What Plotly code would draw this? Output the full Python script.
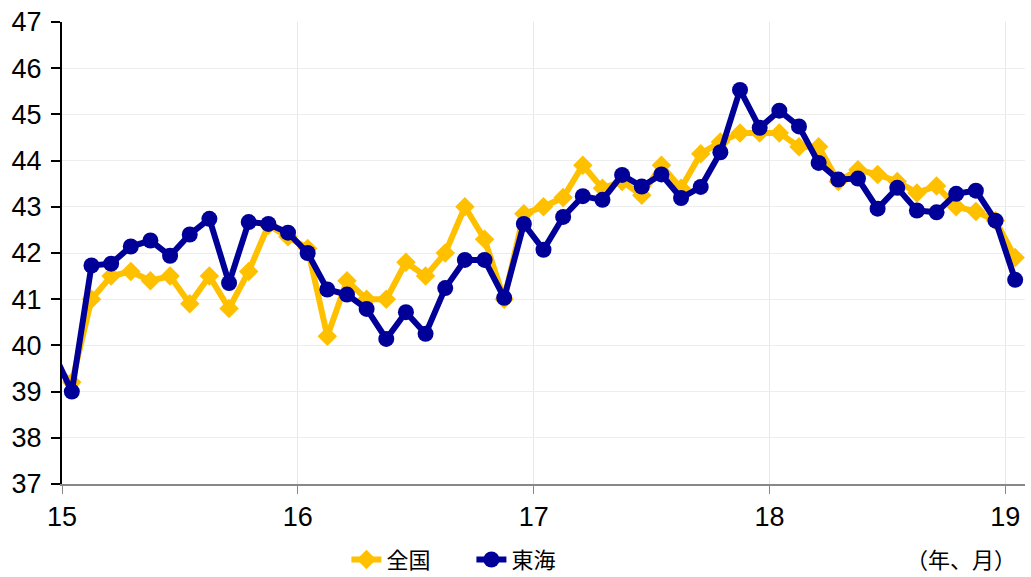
import plotly.graph_objects as go

# Monthly data, Dec 2014 (clipped at the left edge) through Jan 2019
months = [f"{y}-{m:02d}" for y, m in [(2014, 12)] + [(yy, mm) for yy in range(2015, 2019) for mm in range(1, 13)] + [(2019, 1)]]

zenkoku = [39.6,
           39.2, 41.0, 41.5, 41.6, 41.4, 41.5, 40.9, 41.5, 40.8, 41.6, 42.6, 42.35,
           42.1, 40.2, 41.4, 41.0, 41.0, 41.8, 41.5, 42.0, 43.0, 42.3, 41.0, 42.85,
           43.0, 43.2, 43.9, 43.4, 43.55, 43.25, 43.9, 43.4, 44.15, 44.4, 44.6, 44.6,
           44.6, 44.3, 44.3, 43.55, 43.8, 43.7, 43.55, 43.3, 43.45, 43.0, 42.9, 42.7,
           41.9]

tokai = [39.9,
         39.0, 41.73, 41.77, 42.14, 42.27, 41.94, 42.40, 42.74, 41.35, 42.67, 42.63, 42.44,
         42.0, 41.21, 41.10, 40.79, 40.14, 40.72, 40.25, 41.24, 41.85, 41.85, 41.03, 42.63,
         42.07, 42.78, 43.23, 43.15, 43.69, 43.44, 43.70, 43.19, 43.43, 44.18, 45.53, 44.71,
         45.08, 44.74, 43.95, 43.59, 43.61, 42.96, 43.41, 42.92, 42.88, 43.28, 43.35, 42.70,
         41.42]

year_labels = ["15", "16", "17", "18", "19"]
y_ticks = list(range(37, 48))

# x position: Jan 2015 = 0
xpos = [i - 1 for i in range(len(months))]
year_tickvals = [12 * k - 0.5 for k in range(len(year_labels))]

YELLOW = "#FFC000"
BLUE = "#000099"

fig = go.Figure()
fig.add_trace(go.Scatter(
    x=xpos, y=zenkoku, name="全国", mode="lines+markers",
    line=dict(color=YELLOW, width=6),
    marker=dict(symbol="diamond", size=15, color=YELLOW),
))
fig.add_trace(go.Scatter(
    x=xpos, y=tokai, name="東海", mode="lines+markers",
    line=dict(color=BLUE, width=6),
    marker=dict(symbol="circle", size=16, color=BLUE),
))

tick_font = dict(family="Liberation Sans Narrow, Liberation Sans, sans-serif", size=27, color="#000000")
cjk_font = dict(family="Noto Sans CJK JP", size=22, color="#000000")

fig.update_layout(
    width=1031, height=577,
    margin=dict(l=62, r=6, t=22, b=93, autoexpand=False),
    paper_bgcolor="white", plot_bgcolor="white",
    showlegend=True,
    legend=dict(
        orientation="h", xref="container", yref="container",
        x=0.336, xanchor="left", y=0.03, yanchor="middle",
        font=cjk_font, itemwidth=30, tracegroupgap=0,
        entrywidth=80, entrywidthmode="pixels",
        bgcolor="rgba(0,0,0,0)",
    ),
    xaxis=dict(
        range=[-0.5, 48.5], automargin=False,
        tickmode="array", tickvals=year_tickvals, ticktext=year_labels,
        showgrid=True, gridcolor="#E8E8E8", gridwidth=1,
        showline=True, linecolor="#888888", linewidth=2,
        ticks="outside", ticklen=8, tickcolor="#888888", tickwidth=1,
        tickfont=tick_font, zeroline=False,
    ),
    yaxis=dict(
        range=[37, 47], automargin=False,
        tickmode="array", tickvals=y_ticks,
        showgrid=True, gridcolor="#EDEDED", gridwidth=1,
        showline=True, linecolor="#000000", linewidth=2,
        ticks="outside", ticklen=9, tickcolor="#000000", tickwidth=2,
        tickfont=tick_font, ticklabelstandoff=4, zeroline=False,
    ),
    annotations=[dict(
        text="（年、月）", xref="paper", yref="paper",
        x=0.993, xanchor="right", y=-0.16, yanchor="middle",
        showarrow=False, font=cjk_font,
    )],
)

fig.write_html(
    "out.html",
    config={"displayModeBar": False},
    post_script="document.body.style.margin='0';document.body.style.overflow='hidden';",
)
